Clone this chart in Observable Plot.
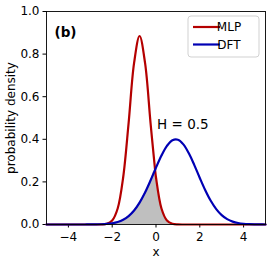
<!DOCTYPE html>
<html>
<head>
<meta charset="utf-8">
<script src="https://cdn.jsdelivr.net/npm/d3@7"></script>
<script src="https://cdn.jsdelivr.net/npm/@observablehq/plot@0.6"></script>
<style>
  body { margin: 0; background: #fff; }
  svg { font-family: "DejaVu Sans", sans-serif; }
</style>
</head>
<body>
<div id="chart"></div>
<script>
const xValues = [-5, -4.75, -4.5, -4.25, -4, -3.75, -3.5, -3.25, -3, -2.75,
  -2.5, -2.25, -2, -1.75, -1.5, -1.25, -1, -0.75, -0.5, -0.25, -0.042,
  0, 0.25, 0.5, 0.75, 1, 1.25, 1.5, 1.75, 2, 2.25, 2.5, 2.75, 3, 3.25, 3.5, 3.75, 4, 4.25, 4.5, 4.75, 5];
const mlpValues = [0, 0, 0, 0, 0, 0, 0, 0, 0, 0,
  0.0005, 0.0034, 0.0187, 0.0750, 0.2207, 0.4774, 0.7584, 0.885, 0.7584, 0.4774, 0.2567,
  0.2207, 0.0750, 0.0187, 0.0034, 0.0005, 0, 0, 0, 0, 0, 0, 0, 0, 0, 0, 0, 0, 0, 0, 0, 0];
const dftValues = [0, 0, 0, 0, 0, 0, 0, 0.0001, 0.0002, 0.0005,
  0.0012, 0.0028, 0.0060, 0.0119, 0.0224, 0.0397, 0.0658, 0.1026, 0.1501, 0.2065, 0.2567,
  0.2668, 0.3238, 0.3692, 0.3955, 0.3980, 0.3762, 0.3341, 0.2787, 0.2184, 0.1608, 0.1112, 0.0723, 0.0441, 0.0253, 0.0136, 0.0069, 0.0033, 0.0015, 0.0006, 0.0002, 0.0001];
const seriesNames = ["MLP", "DFT"];
const seriesColors = ["#b40000", "#0000b4"];
const xTicks = [-4, -2, 0, 2, 4];
const yTicks = [0, 0.2, 0.4, 0.6, 0.8, 1.0];
const panelLabel = "(b)";
const annotation = {x: 0.05, y: 0.47, text: "H = 0.5"};

const table = xValues.map((x, i) => ({
  x, mlp: mlpValues[i], dft: dftValues[i], overlap: Math.min(mlpValues[i], dftValues[i])
}));

const chart = Plot.plot({
  width: 274,
  height: 263,
  marginLeft: 46,
  marginRight: 9,
  marginTop: 11,
  marginBottom: 39,
  style: {fontFamily: "DejaVu Sans, sans-serif", fontSize: "12px", color: "#000", background: "#fff"},
  x: {domain: [-5, 5], ticks: xTicks, tickSize: 3.5, tickPadding: 4, label: "x", labelAnchor: "center", labelArrow: "none", labelOffset: 31},
  y: {domain: [0, 1], ticks: yTicks, tickFormat: d3.format(".1f"), tickSize: 3.5, tickPadding: 3.5, label: "probability density", labelAnchor: "center", labelArrow: "none", labelOffset: 40},
  marks: [
    Plot.areaY(table, {x: "x", y: "overlap", fill: "#bfbfbf", curve: "monotone-x"}),
    Plot.line(table, {x: "x", y: "mlp", stroke: seriesColors[0], strokeWidth: 2.2, curve: "catmull-rom"}),
    Plot.line(table, {x: "x", y: "dft", stroke: seriesColors[1], strokeWidth: 2.2, curve: "catmull-rom"}),
    Plot.text([panelLabel], {frameAnchor: "top-left", dx: 8, dy: 16, text: d => d, fontWeight: "bold", fontSize: 13.5, textAnchor: "start"}),
    Plot.text([annotation], {x: "x", y: "y", text: "text", fontSize: 13.5, textAnchor: "start"}),
    Plot.frame({stroke: "#000", strokeWidth: 0.9})
  ]
});

document.getElementById("chart").appendChild(chart);

// axis labels slightly smaller than default font
d3.select(chart).selectAll("g[aria-label='x-axis label'] text, g[aria-label='y-axis label'] text").attr("font-size", 12);

// legend inside the plot area, top-right
const svg = d3.select(chart);
const lg = svg.append("g").attr("transform", "translate(188,16)");
lg.append("rect").attr("width", 71).attr("height", 41).attr("rx", 3)
  .attr("fill", "#fff").attr("fill-opacity", 0.8).attr("stroke", "#ccc").attr("stroke-width", 0.9);
seriesNames.forEach((name, i) => {
  const yy = 11 + i * 17.5;
  lg.append("line").attr("x1", 5).attr("x2", 32).attr("y1", yy).attr("y2", yy)
    .attr("stroke", seriesColors[i]).attr("stroke-width", 2.2);
  lg.append("text").attr("x", 41).attr("y", yy).attr("dy", "0.36em")
    .attr("font-size", 12).attr("fill", "#000").text(name);
});
</script>
</body>
</html>
